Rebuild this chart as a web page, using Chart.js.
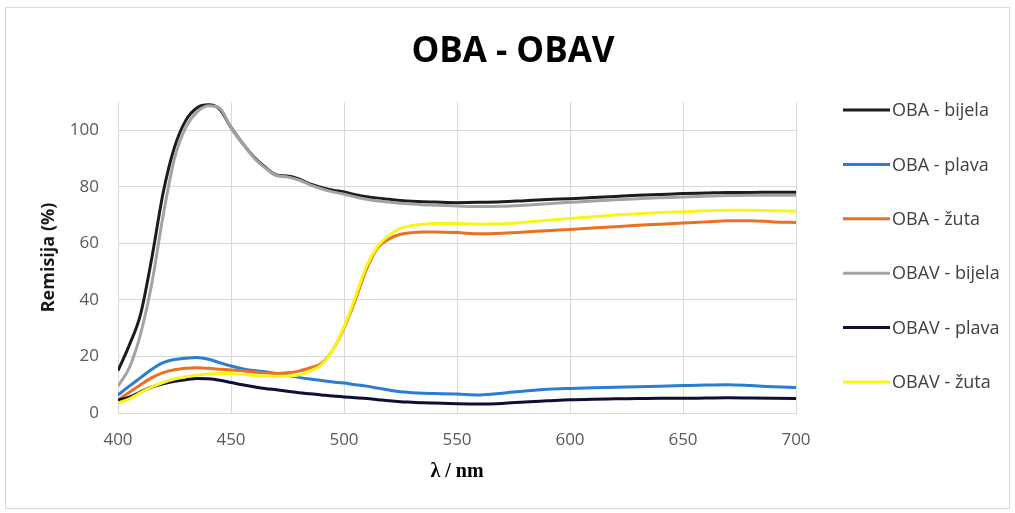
<!DOCTYPE html>
<html>
<head>
<meta charset="utf-8">
<script src="https://cdn.jsdelivr.net/npm/chart.js@4.4.1/dist/chart.umd.min.js"></script>
<style>
  html, body { margin: 0; padding: 0; background: #ffffff; }
  #wrap { position: relative; width: 1015px; height: 513px; }
  #frame { position: absolute; left: 5px; top: 7px; width: 1003px; height: 500px; border: 1px solid #d9d9d9; pointer-events: none; }
  canvas { position: absolute; left: 0; top: 0; }
</style>
</head>
<body>
<div id="wrap">
  <canvas id="c" width="1015" height="513"></canvas>
  <div id="frame"></div>
</div>
<script>
const wavelengths = [400,405,410,415,420,425,430,435,440,445,450,455,460,465,470,475,480,485,490,495,500,505,510,515,520,525,530,535,540,550,560,570,580,590,600,610,620,630,640,650,660,670,680,690,700];

const obaBijela = [15,24,35,55,78,94,103.5,108,109,107.5,101,95.5,90.6,87,84.2,83.8,82.8,81,79.8,78.8,78.2,77.2,76.5,76,75.6,75.2,74.9,74.7,74.6,74.4,74.5,74.7,75.1,75.5,75.8,76.2,76.6,77,77.3,77.6,77.8,78,78,78.1,78.1];
const obaPlava = [6.4,9.5,12.5,15.5,17.8,18.9,19.4,19.6,19,17.8,16.6,15.7,15,14.6,14,13.3,12.6,12,11.5,11,10.6,10,9.5,8.8,8.1,7.5,7.2,7,6.9,6.7,6.4,7,7.8,8.4,8.7,8.9,9.1,9.3,9.5,9.7,9.9,10,9.7,9.3,9];
const obaZuta = [4.6,7.3,10,12.5,14.3,15.3,15.8,16,15.8,15.5,15.2,14.9,14.5,14.2,14,14.2,14.8,16,17.5,22.3,30,40,51,58.5,61.6,63.2,63.8,64,64,63.8,63.4,63.6,64,64.5,64.9,65.4,65.9,66.4,66.8,67.2,67.6,68,68,67.6,67.4];
const obavBijela = [9.5,16,28,46,70,90,101,106.5,108.7,107.8,101,95.5,90.4,86.8,84,83.5,82.4,80.7,79.3,78.2,77.4,76.4,75.6,75,74.6,74.2,73.9,73.6,73.5,73.2,73,73.1,73.5,74,74.5,75,75.4,75.8,76.1,76.4,76.7,76.9,77,77,77];
const obavPlava = [4.6,5.6,7.5,9.2,10.3,11.2,11.8,12.2,12.1,11.6,10.8,10,9.3,8.7,8.2,7.7,7.2,6.8,6.4,6,5.7,5.4,5.1,4.7,4.3,4,3.8,3.6,3.5,3.3,3.2,3.4,3.9,4.3,4.7,4.9,5,5.1,5.2,5.2,5.3,5.4,5.3,5.2,5.1];
const obavZuta = [3.5,5,7.2,9.2,10.8,12,12.8,13.4,13.8,14,14,13.7,13.3,13.1,13,13.1,13.4,14.8,17,22.3,30.5,41,52,59,62.9,65.3,66.3,66.8,67,67,66.8,66.9,67.5,68.2,68.8,69.4,70,70.5,70.9,71.2,71.5,71.7,71.7,71.5,71.4];

const seriesLabels = ['OBA - bijela','OBA - plava','OBA - žuta','OBAV - bijela','OBAV - plava','OBAV - žuta'];
const seriesValues = [obaBijela, obaPlava, obaZuta, obavBijela, obavPlava, obavZuta];
const seriesColors = ['#1c1c1c','#2b7cd3','#ec7021','#a3a3a3','#0e0e36','#f6f61a'];

const chartTitle = 'OBA - OBAV';
const xTitle = 'λ / nm';
const yTitle = 'Remisija (%)';
const xMin = 400, xMax = 700, xStep = 50;
const yMin = 0, yMax = 110, yStep = 20, yLastLabel = 100;

const datasets = seriesLabels.map((label, i) => ({
  label,
  data: wavelengths.map((w, j) => ({x: w, y: seriesValues[i][j]})),
  borderColor: seriesColors[i],
  backgroundColor: seriesColors[i],
  borderWidth: 3,
  pointRadius: 0,
  fill: false,
  cubicInterpolationMode: 'monotone',
  order: seriesLabels.length - i
}));

const legendPlugin = {
  id: 'sideLegend',
  afterDraw(chart) {
    const ctx = chart.ctx;
    ctx.save();
    ctx.font = '18px "Open Sans"';
    ctx.textBaseline = 'middle';
    ctx.textAlign = 'left';
    chart.data.datasets.forEach((ds, i) => {
      const y = 110 + i * 54.4;
      ctx.strokeStyle = ds.borderColor;
      ctx.lineWidth = 3;
      ctx.beginPath();
      ctx.moveTo(843, y);
      ctx.lineTo(890, y);
      ctx.stroke();
      ctx.fillStyle = '#404040';
      ctx.fillText(ds.label, 892, y + 1);
    });
    ctx.restore();
  }
};

function build() {
  Chart.defaults.font.family = '"Open Sans", sans-serif';
  new Chart(document.getElementById('c'), {
    type: 'line',
    data: { datasets },
    plugins: [legendPlugin],
    options: {
      responsive: false,
      animation: false,
      devicePixelRatio: 1,
      layout: { padding: { left: 11, right: 0, top: 0, bottom: 0 } },
      plugins: {
        legend: { display: false },
        tooltip: { enabled: false },
        title: {
          display: true,
          text: chartTitle,
          color: '#000000',
          font: { size: 35, weight: 'bold', family: '"Open Sans"' },
          padding: { top: 31, bottom: 29 }
        }
      },
      scales: {
        x: {
          type: 'linear',
          min: xMin, max: xMax,
          ticks: { stepSize: xStep, color: '#595959', font: { size: 17 }, padding: 17, maxRotation: 0 },
          grid: { color: '#d9d9d9', drawTicks: false },
          border: { color: '#d9d9d9' },
          title: { display: true, text: xTitle, color: '#000000', font: { family: '"Liberation Serif"', size: 20, weight: 'bold' }, padding: { top: 4, bottom: 29 } },
          afterFit(s) { s.height = 100; }
        },
        y: {
          type: 'linear',
          min: yMin, max: yMax,
          ticks: { stepSize: yStep, color: '#595959', font: { size: 17 }, padding: 19 },
          afterBuildTicks(s) { s.ticks = s.ticks.filter(t => t.value <= yLastLabel); },
          grid: { color: '#d9d9d9', drawTicks: false },
          border: { color: '#d9d9d9' },
          title: { display: true, text: yTitle, color: '#1a1a1a', font: { size: 18, weight: 'bold' }, padding: { top: 27 } },
          afterFit(s) { s.width = 107; }
        },
        y2: {
          type: 'linear',
          position: 'right',
          display: true,
          grid: { display: false, drawTicks: false },
          border: { display: false },
          ticks: { display: false },
          afterFit(s) { s.width = 219; }
        }
      }
    }
  });
}

if (document.fonts && document.fonts.load) {
  Promise.all([
    document.fonts.load('18px "Open Sans"'),
    document.fonts.load('bold 35px "Open Sans"'),
    document.fonts.load('bold 20px "Liberation Serif"')
  ]).then(build, build);
} else { build(); }
</script>
</body>
</html>
